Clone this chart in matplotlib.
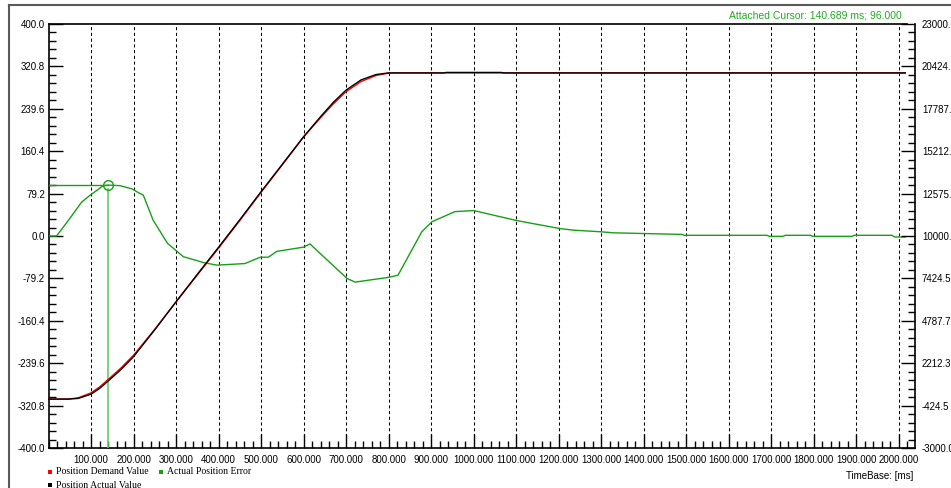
import matplotlib
matplotlib.use("Agg")
import matplotlib.pyplot as plt
import numpy as np
from matplotlib.lines import Line2D
from matplotlib.patches import Rectangle


# ============================================
# DATA
# ============================================

# Actual Position Error (left axis)
err_t = [0, 19, 50, 78, 98, 129, 141, 168, 196, 211, 223, 246, 280, 317, 364,
         396, 462, 498, 517, 537, 600, 615, 639, 702, 721, 800, 822, 878, 902,
         956, 1000, 1102, 1203, 1235, 1298, 1329, 1490, 1495, 1690, 1695, 1728,
         1733, 1792, 1797, 1890, 1895, 1984, 1990, 2015]
err_v = [0, 0, 33, 64, 77, 95, 96, 95, 89, 82, 77, 30, -14, -39, -50,
         -55, -52, -40, -40, -29, -21, -15, -33, -80, -87, -78, -74, 8, 27,
         46, 48, 29, 14, 11, 8, 6, 3, 1.3, 1.3, -0.6, -0.6,
         1.3, 1.3, -0.6, -0.6, 1.3, 1.3, -1.9, -1.9]

# Position Actual Value (right axis)
act_t = [0, 47, 70, 100, 120, 140, 170, 200, 250, 300, 350, 400, 450, 500, 550,
         600, 640, 670, 700, 735, 770, 800, 930, 935, 1065, 1070, 2015]
act_v = [0, 0, 40, 300, 650, 1100, 1800, 2600, 4250, 5970, 7650, 9310, 11000,
         12720, 14400, 16090, 17320, 18200, 18950, 19570, 19900, 20000, 20000,
         20030, 20030, 20000, 20000]

# Position Demand Value (right axis)
dem_t = [0, 47, 70, 100, 120, 140, 170, 200, 250, 300, 350, 400, 450, 500, 550,
         600, 640, 670, 700, 735, 770, 800, 820, 2015]
dem_v = [0, 0, 80, 380, 740, 1196, 1895, 2690, 4280, 5955, 7610, 9257, 10950,
         12680, 14370, 16070, 17260, 18100, 18850, 19470, 19840, 19990, 20000,
         20000]

cursor_t = 140.689
cursor_v = 96.0

x_ticks = list(range(100, 2001, 100))
left_ticks = ["-400.0", "-320.8", "-239.6", "-160.4", "-79.2", "0.0",
              "79.2", "160.4", "239.6", "320.8", "400.0"]
right_ticks = ["-3000.0", "-424.5", "2212.3", "4787.7", "7424.5", "10000.0",
               "12575.5", "15212.3", "17787.7", "20424.5", "23000.0"]


# ============================================
# FIGURE
# ============================================

W, H = 951, 488
fig = plt.figure(figsize=(W / 100, H / 100), dpi=100)
fig.patch.set_facecolor("white")

SANS = "Liberation Sans"
SERIF = "Liberation Serif"
GREEN = "#16a016"

ax = fig.add_axes([48.5 / W, 1 - 448 / H, (915 - 48.5) / W, (448 - 24) / H])
ax.set_xlim(0, 2038)
ax.set_ylim(-400, 400)
ax.spines["top"].set_visible(False)
ax.spines["right"].set_visible(False)
for s in ("left", "bottom"):
    ax.spines[s].set_linewidth(1.2)

# top border only over the data range
ax.plot([0, 2019], [400, 400], color="black", lw=1.2, clip_on=False, zorder=5)

# x ticks
ax.set_xticks(x_ticks)
ax.set_xticklabels([f"{t:.3f}" for t in x_ticks], fontsize=7, family=SANS)
ax.set_xticks(np.arange(0, 2021, 20), minor=True)
ax.tick_params(axis="x", which="major", direction="in", length=10, width=1, pad=5)
ax.tick_params(axis="x", which="minor", direction="in", length=5, width=1)

# left y ticks
ax.set_yticks(np.linspace(-400, 400, 11))
ax.set_yticklabels(left_ticks, fontsize=7, family=SANS)
ax.set_yticks(np.linspace(-400, 400, 51), minor=True)
ax.tick_params(axis="y", which="major", direction="in", length=10, width=1, pad=2.5)
ax.tick_params(axis="y", which="minor", direction="in", length=5, width=1)

# vertical dashed grid
ax.grid(axis="x", which="major", color="black", lw=0.75, linestyle=(0, (3, 2.5)))
ax.set_axisbelow(True)

# right axis for positions
ax2 = ax.twinx()
ax2.set_ylim(-3000, 23000)
for s in ("left", "top", "bottom"):
    ax2.spines[s].set_visible(False)
ax2.spines["right"].set_linewidth(1.2)
ax2.set_yticks(np.linspace(-3000, 23000, 11))
ax2.set_yticklabels(right_ticks, fontsize=7, family=SANS)
ax2.set_yticks(np.linspace(-3000, 23000, 51), minor=True)
ax2.tick_params(axis="y", which="major", direction="in", length=10, width=1, pad=5)
ax2.tick_params(axis="y", which="minor", direction="in", length=5, width=1)

# error curve + cursor
ax.plot(err_t, err_v, color=GREEN, lw=1.0, zorder=3)
ax.plot([0, cursor_t], [cursor_v, cursor_v], color=GREEN, lw=1.0, zorder=3)
ax.plot([cursor_t, cursor_t], [-400, cursor_v - 7], color="#6cc86c", lw=1.2, zorder=3)
ax.plot([cursor_t], [cursor_v], marker="o", ms=7, mfc="none", mec=GREEN, mew=1.0, zorder=4)

# positions
ax2.plot(dem_t, dem_v, color="#ff0000", lw=1.0)
ax2.plot(act_t, act_v, color="black", lw=1.0)

# cursor readout
fig.text(902 / W, 1 - 15 / H, f"Attached Cursor: {cursor_t:.3f} ms; {cursor_v:.3f}",
         color="#22aa22", fontsize=7.5, family=SANS, ha="right", va="center")

# x axis caption
fig.text(913 / W, 1 - 476 / H, "TimeBase: [ms]", fontsize=7, family=SANS,
         ha="right", va="center")

# legend
legend_items = [("Position Demand Value", "#ff0000", 48, 472),
                ("Actual Position Error", GREEN, 159, 472),
                ("Position Actual Value", "black", 48, 485)]
for label, col, x, y in legend_items:
    fig.add_artist(Rectangle((x / W, 1 - (y + 2) / H), 4 / W, 4 / H,
                             transform=fig.transFigure, color=col, lw=0))
    fig.text((x + 8) / W, 1 - y / H, label, fontsize=7, family=SERIF,
             ha="left", va="center")

# window frame
fig.add_artist(Line2D([9 / W, 9 / W], [0, 1 - 5 / H], transform=fig.transFigure,
                      color="#5a5a5a", lw=1.5))
fig.add_artist(Line2D([9 / W, 1], [1 - 5 / H, 1 - 5 / H], transform=fig.transFigure,
                      color="#5a5a5a", lw=1.5))

fig.savefig("out.png", dpi=100)
